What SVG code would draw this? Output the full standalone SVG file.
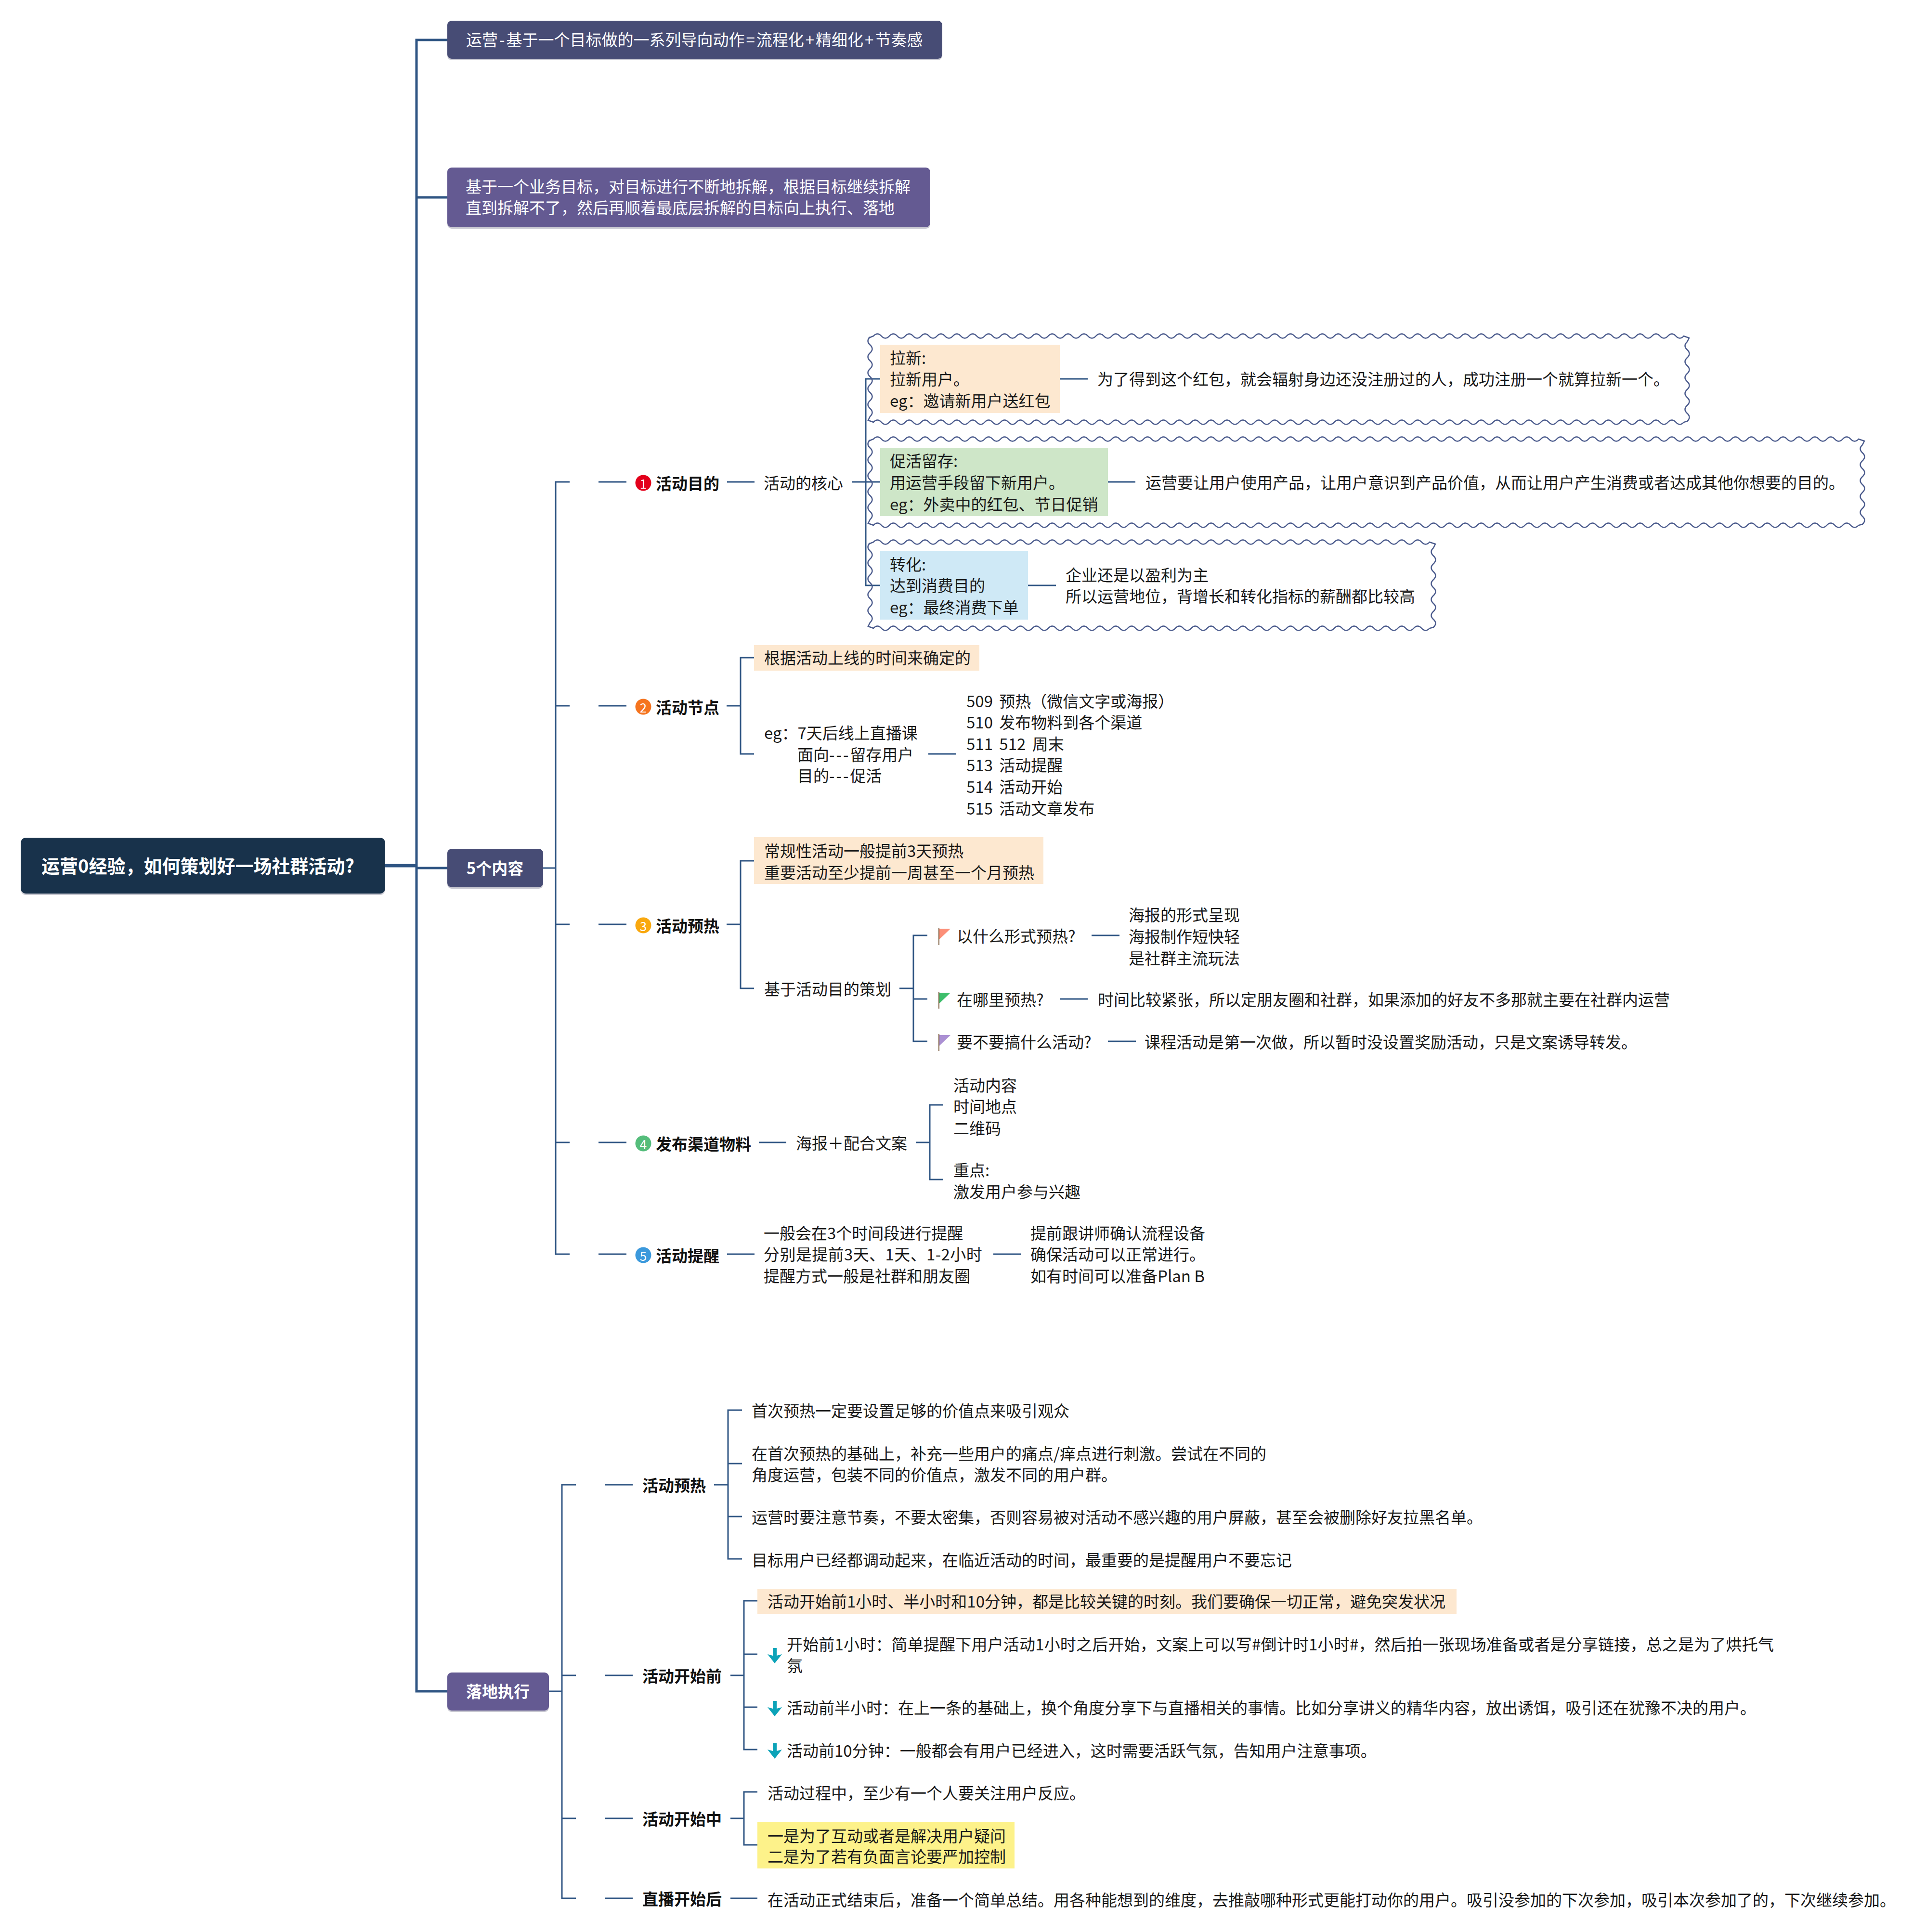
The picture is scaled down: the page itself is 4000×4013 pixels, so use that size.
<svg xmlns="http://www.w3.org/2000/svg" width="4000" height="4013" viewBox="0 0 4000 4013">
<style>
text{font-family:"Noto Sans CJK SC","Noto Sans",sans-serif;font-size:33px;fill:#1a1a1a;dominant-baseline:central;transform:translateY(-2px)}
.b{font-weight:700;fill:#111}
.w{fill:#fff}
.wb{fill:#fff;font-weight:700}
.c{text-anchor:middle}
.n{font-size:26px;fill:#fff;text-anchor:middle}
.sp{letter-spacing:3px}
.ws{word-spacing:6px}
.l{fill:none;stroke:#2f5583;stroke-width:3}
.t{fill:none;stroke:#2f5583;stroke-width:5}
.r{fill:none;stroke:#2f5583;stroke-width:7}
.wv{fill:none;stroke:#4a5a8c;stroke-width:2.5}
.sh{fill:#c9c9d2}
.pole{stroke:#7a5a3c;stroke-width:2;fill:none}
.ar{fill:#0ca3b8}
.org{fill:#fde8d0}
</style>
<defs>
<path id="arrow" d="M-4 0h8v16l11 -3 -15 19 -15 -19 11 3z"/>
</defs>
<rect width="4000" height="4013" fill="#fff"/>
<g id="connectors">
<path class="r" d="M800 1798H865"/>
<path class="t" d="M929 83H865V3513H929M865 410H929M865 1803H929"/>
<path class="l" d="M1128 1803H1154M1183 1001H1154V2605H1183M1154 1466H1183M1154 1920H1183M1154 2373H1183"/>
<path class="l" d="M1243 1001H1301M1510 1001H1567M1770 1001H1828M1828 787H1798V1216H1828"/>
<path class="l" d="M2201 787H2259M2301 1001H2358M2135 1216H2193"/>
<path class="l" d="M1243 1466H1301M1509 1466H1538M1566 1366H1538V1566H1566M1928 1566H1986"/>
<path class="l" d="M1243 1920H1301M1509 1920H1538M1566 1788H1538V2053H1566M1868 2053H1897M1926 1943H1897V2163H1926M1897 2075H1926"/>
<path class="l" d="M2267 1943H2325M2201 2075H2259M2301 2163H2359"/>
<path class="l" d="M1243 2373H1301M1576 2373H1633M1902 2373H1931M1959 2295H1931V2450H1959"/>
<path class="l" d="M1243 2605H1301M1510 2605H1567M2063 2605H2120"/>
<path class="l" d="M1140 3513H1167M1196 3084H1167V3943H1196M1167 3480H1196M1167 3777H1196"/>
<path class="l" d="M1257 3084H1314M1483 3084H1512M1541 2929H1512V3238H1541M1512 3040H1541M1512 3150H1541"/>
<path class="l" d="M1257 3480H1314M1517 3480H1545M1573 3325H1545V3634H1573M1545 3436H1573M1545 3546H1573"/>
<path class="l" d="M1257 3777H1314M1517 3777H1545M1573 3722H1545V3832H1573"/>
<path class="l" d="M1257 3943H1314M1517 3943H1573"/>
</g>
<g id="root">
<rect x="43" y="1743" width="757" height="116" rx="11" class="sh"/>
<rect x="43" y="1740" width="757" height="116" rx="11" fill="#18324b"/>
<text class="wb" x="86" y="1798" style="font-size:38px">运营0经验，如何策划好一场社群活动?</text>
</g>
<g id="n-def1">
<rect x="929" y="46" width="1028" height="79" rx="9" class="sh"/>
<rect x="929" y="43" width="1028" height="79" rx="9" fill="#474c75"/>
<text class="w" x="968" y="83">运营<tspan class="sp" dx="3">-</tspan>基于一个目标做的一系列导向动作<tspan class="sp" dx="3">=</tspan>流程化<tspan class="sp" dx="3">+</tspan>精细化<tspan class="sp" dx="3">+</tspan>节奏感</text>
</g>
<g id="n-def2">
<rect x="929" y="351" width="1003" height="124" rx="9" class="sh"/>
<rect x="929" y="348" width="1003" height="124" rx="9" fill="#645a92"/>
<text class="w" x="967" y="388">基于一个业务目标，对目标进行不断地拆解，根据目标继续拆解</text>
<text class="w" x="967" y="432">直到拆解不了，然后再顺着最底层拆解的目标向上执行、落地</text>
</g>
<g id="n-five">
<rect x="929" y="1766" width="199" height="80" rx="9" class="sh"/>
<rect x="929" y="1763" width="199" height="80" rx="9" fill="#474c75"/>
<text class="wb c" x="1028" y="1804">5个内容</text>
</g>
<g id="n-item1">
<circle cx="1336" cy="1003" r="16.5" fill="#e3001b"/>
<text class="n" x="1336" y="1005">1</text>
<text class="b" x="1362" y="1005">活动目的</text>
<text x="1586" y="1004">活动的核心</text>
</g>
<g id="n-laxin">
<path class="wv" d="M1804 702L1814 698q8.25 -9 16.5 0t
16.5 0 16.5 0 16.5 0 16.5 0 16.5 0 16.5 0 16.5 0 16.5 0 16.5 0 16.5 0
16.5 0 16.5 0 16.5 0 16.5 0 16.5 0 16.5 0 16.5 0 16.5 0 16.5 0 16.5 0
16.5 0 16.5 0 16.5 0 16.5 0 16.5 0 16.5 0 16.5 0 16.5 0 16.5 0 16.5 0
16.5 0 16.5 0 16.5 0 16.5 0 16.5 0 16.5 0 16.5 0 16.5 0 16.5 0 16.5 0
16.5 0 16.5 0 16.5 0 16.5 0 16.5 0 16.5 0 16.5 0 16.5 0 16.5 0 16.5 0
16.5 0 16.5 0 16.5 0 16.5 0 16.5 0 16.5 0 16.5 0 16.5 0 16.5 0 16.5 0
16.5 0 16.5 0 16.5 0 16.5 0 16.5 0 16.5 0 16.5 0 16.5 0 16.5 0 16.5 0
16.5 0 16.5 0 16.5 0 16.5 0 16.5 0 16.5 0 16.5 0 16.5 0 16.5 0 16.5 0
16.5 0 16.5 0 16.5 0 16.5 0 16.5 0 16.5 0 16.5 0 16.5 0 16.5 0 16.5 0
16.5 0 16.5 0 16.5 0 16.5 0 16.5 0 16.5 0 16.5 0 16.5 0 16.5 0 16.5 0
16.5 0
L3508 702L3504 710q-9 8.25 0 16.5t0 16.5 0 16.5 0 16.5 0 16.5 0 16.5 0 16.5 0 16.5 0 16.5 0 16.5L3497 877q-8.25 9 -16.5 0t
-16.5 0 -16.5 0 -16.5 0 -16.5 0 -16.5 0 -16.5 0 -16.5 0 -16.5 0 -16.5 0 -16.5 0
-16.5 0 -16.5 0 -16.5 0 -16.5 0 -16.5 0 -16.5 0 -16.5 0 -16.5 0 -16.5 0 -16.5 0
-16.5 0 -16.5 0 -16.5 0 -16.5 0 -16.5 0 -16.5 0 -16.5 0 -16.5 0 -16.5 0 -16.5 0
-16.5 0 -16.5 0 -16.5 0 -16.5 0 -16.5 0 -16.5 0 -16.5 0 -16.5 0 -16.5 0 -16.5 0
-16.5 0 -16.5 0 -16.5 0 -16.5 0 -16.5 0 -16.5 0 -16.5 0 -16.5 0 -16.5 0 -16.5 0
-16.5 0 -16.5 0 -16.5 0 -16.5 0 -16.5 0 -16.5 0 -16.5 0 -16.5 0 -16.5 0 -16.5 0
-16.5 0 -16.5 0 -16.5 0 -16.5 0 -16.5 0 -16.5 0 -16.5 0 -16.5 0 -16.5 0 -16.5 0
-16.5 0 -16.5 0 -16.5 0 -16.5 0 -16.5 0 -16.5 0 -16.5 0 -16.5 0 -16.5 0 -16.5 0
-16.5 0 -16.5 0 -16.5 0 -16.5 0 -16.5 0 -16.5 0 -16.5 0 -16.5 0 -16.5 0 -16.5 0
-16.5 0 -16.5 0 -16.5 0 -16.5 0 -16.5 0 -16.5 0 -16.5 0 -16.5 0 -16.5 0 -16.5 0
-16.5 0
L1803 873L1807 865q9 -8.25 0 -16.5t0 -16.5 0 -16.5 0 -16.5 0 -16.5 0 -16.5 0 -16.5 0 -16.5 0 -16.5 0 -16.5z"/>
<rect x="1828" y="716" width="373" height="142" class="org"/>
<text x="1848" y="744">拉新:</text>
<text x="1848" y="788">拉新用户。</text>
<text x="1848" y="833">eg：邀请新用户送红包</text>
<text x="2279" y="788">为了得到这个红包，就会辐射身边还没注册过的人，成功注册一个就算拉新一个。</text>
</g>
<g id="n-cuhuo">
<path class="wv" d="M1804 916L1814 912q8.25 -9 16.5 0t
16.5 0 16.5 0 16.5 0 16.5 0 16.5 0 16.5 0 16.5 0 16.5 0 16.5 0 16.5 0
16.5 0 16.5 0 16.5 0 16.5 0 16.5 0 16.5 0 16.5 0 16.5 0 16.5 0 16.5 0
16.5 0 16.5 0 16.5 0 16.5 0 16.5 0 16.5 0 16.5 0 16.5 0 16.5 0 16.5 0
16.5 0 16.5 0 16.5 0 16.5 0 16.5 0 16.5 0 16.5 0 16.5 0 16.5 0 16.5 0
16.5 0 16.5 0 16.5 0 16.5 0 16.5 0 16.5 0 16.5 0 16.5 0 16.5 0 16.5 0
16.5 0 16.5 0 16.5 0 16.5 0 16.5 0 16.5 0 16.5 0 16.5 0 16.5 0 16.5 0
16.5 0 16.5 0 16.5 0 16.5 0 16.5 0 16.5 0 16.5 0 16.5 0 16.5 0 16.5 0
16.5 0 16.5 0 16.5 0 16.5 0 16.5 0 16.5 0 16.5 0 16.5 0 16.5 0 16.5 0
16.5 0 16.5 0 16.5 0 16.5 0 16.5 0 16.5 0 16.5 0 16.5 0 16.5 0 16.5 0
16.5 0 16.5 0 16.5 0 16.5 0 16.5 0 16.5 0 16.5 0 16.5 0 16.5 0 16.5 0
16.5 0 16.5 0 16.5 0 16.5 0 16.5 0 16.5 0 16.5 0 16.5 0 16.5 0 16.5 0
16.5 0 16.5 0 16.5 0 16.5 0 16.5 0 16.5 0 16.5 0 16.5 0 16.5 0 16.5 0
16.5 0 16.5 0 16.5 0
L3872 916L3868 924q-9 8.25 0 16.5t0 16.5 0 16.5 0 16.5 0 16.5 0 16.5 0 16.5 0 16.5 0 16.5 0 16.5L3860 1091q-8.25 9 -16.5 0t
-16.5 0 -16.5 0 -16.5 0 -16.5 0 -16.5 0 -16.5 0 -16.5 0 -16.5 0 -16.5 0 -16.5 0
-16.5 0 -16.5 0 -16.5 0 -16.5 0 -16.5 0 -16.5 0 -16.5 0 -16.5 0 -16.5 0 -16.5 0
-16.5 0 -16.5 0 -16.5 0 -16.5 0 -16.5 0 -16.5 0 -16.5 0 -16.5 0 -16.5 0 -16.5 0
-16.5 0 -16.5 0 -16.5 0 -16.5 0 -16.5 0 -16.5 0 -16.5 0 -16.5 0 -16.5 0 -16.5 0
-16.5 0 -16.5 0 -16.5 0 -16.5 0 -16.5 0 -16.5 0 -16.5 0 -16.5 0 -16.5 0 -16.5 0
-16.5 0 -16.5 0 -16.5 0 -16.5 0 -16.5 0 -16.5 0 -16.5 0 -16.5 0 -16.5 0 -16.5 0
-16.5 0 -16.5 0 -16.5 0 -16.5 0 -16.5 0 -16.5 0 -16.5 0 -16.5 0 -16.5 0 -16.5 0
-16.5 0 -16.5 0 -16.5 0 -16.5 0 -16.5 0 -16.5 0 -16.5 0 -16.5 0 -16.5 0 -16.5 0
-16.5 0 -16.5 0 -16.5 0 -16.5 0 -16.5 0 -16.5 0 -16.5 0 -16.5 0 -16.5 0 -16.5 0
-16.5 0 -16.5 0 -16.5 0 -16.5 0 -16.5 0 -16.5 0 -16.5 0 -16.5 0 -16.5 0 -16.5 0
-16.5 0 -16.5 0 -16.5 0 -16.5 0 -16.5 0 -16.5 0 -16.5 0 -16.5 0 -16.5 0 -16.5 0
-16.5 0 -16.5 0 -16.5 0 -16.5 0 -16.5 0 -16.5 0 -16.5 0 -16.5 0 -16.5 0 -16.5 0
-16.5 0 -16.5 0 -16.5 0
L1803 1087L1807 1079q9 -8.25 0 -16.5t0 -16.5 0 -16.5 0 -16.5 0 -16.5 0 -16.5 0 -16.5 0 -16.5 0 -16.5 0 -16.5z"/>
<rect x="1828" y="930" width="473" height="142" fill="#cee6c8"/>
<text x="1848" y="958">促活留存:</text>
<text x="1848" y="1003">用运营手段留下新用户。</text>
<text x="1848" y="1048">eg：外卖中的红包、节日促销</text>
<text x="2379" y="1003">运营要让用户使用产品，让用户意识到产品价值，从而让用户产生消费或者达成其他你想要的目的。</text>
</g>
<g id="n-zhuanhua">
<path class="wv" d="M1804 1130L1814 1126q8.25 -9 16.5 0t
16.5 0 16.5 0 16.5 0 16.5 0 16.5 0 16.5 0 16.5 0 16.5 0 16.5 0 16.5 0
16.5 0 16.5 0 16.5 0 16.5 0 16.5 0 16.5 0 16.5 0 16.5 0 16.5 0 16.5 0
16.5 0 16.5 0 16.5 0 16.5 0 16.5 0 16.5 0 16.5 0 16.5 0 16.5 0 16.5 0
16.5 0 16.5 0 16.5 0 16.5 0 16.5 0 16.5 0 16.5 0 16.5 0 16.5 0 16.5 0
16.5 0 16.5 0 16.5 0 16.5 0 16.5 0 16.5 0 16.5 0 16.5 0 16.5 0 16.5 0
16.5 0 16.5 0 16.5 0 16.5 0 16.5 0 16.5 0 16.5 0 16.5 0 16.5 0 16.5 0
16.5 0 16.5 0 16.5 0 16.5 0 16.5 0 16.5 0 16.5 0 16.5 0 16.5 0
L2981 1130L2977 1138q-9 8.25 0 16.5t0 16.5 0 16.5 0 16.5 0 16.5 0 16.5 0 16.5 0 16.5 0 16.5 0 16.5L2969 1305q-8.25 9 -16.5 0t
-16.5 0 -16.5 0 -16.5 0 -16.5 0 -16.5 0 -16.5 0 -16.5 0 -16.5 0 -16.5 0 -16.5 0
-16.5 0 -16.5 0 -16.5 0 -16.5 0 -16.5 0 -16.5 0 -16.5 0 -16.5 0 -16.5 0 -16.5 0
-16.5 0 -16.5 0 -16.5 0 -16.5 0 -16.5 0 -16.5 0 -16.5 0 -16.5 0 -16.5 0 -16.5 0
-16.5 0 -16.5 0 -16.5 0 -16.5 0 -16.5 0 -16.5 0 -16.5 0 -16.5 0 -16.5 0 -16.5 0
-16.5 0 -16.5 0 -16.5 0 -16.5 0 -16.5 0 -16.5 0 -16.5 0 -16.5 0 -16.5 0 -16.5 0
-16.5 0 -16.5 0 -16.5 0 -16.5 0 -16.5 0 -16.5 0 -16.5 0 -16.5 0 -16.5 0 -16.5 0
-16.5 0 -16.5 0 -16.5 0 -16.5 0 -16.5 0 -16.5 0 -16.5 0 -16.5 0 -16.5 0
L1803 1301L1807 1293q9 -8.25 0 -16.5t0 -16.5 0 -16.5 0 -16.5 0 -16.5 0 -16.5 0 -16.5 0 -16.5 0 -16.5 0 -16.5z"/>
<rect x="1828" y="1145" width="307" height="142" fill="#cfe9f6"/>
<text x="1848" y="1173">转化:</text>
<text x="1848" y="1217">达到消费目的</text>
<text x="1848" y="1262">eg：最终消费下单</text>
<text x="2213" y="1195">企业还是以盈利为主</text>
<text x="2213" y="1239">所以运营地位，背增长和转化指标的薪酬都比较高</text>
</g>
<g id="n-item2">
<circle cx="1336" cy="1468" r="16.5" fill="#f5741f"/>
<text class="n" x="1336" y="1470">2</text>
<text class="b" x="1362" y="1470">活动节点</text>
</g>
<g id="n-item2a">
<rect x="1566" y="1340" width="468" height="53" class="org"/>
<text x="1587" y="1367">根据活动上线的时间来确定的</text>
</g>
<g id="n-item2b">
<text x="1587" y="1523">eg：7天后线上直播课</text>
<text x="1656" y="1568">面向<tspan class="sp">---</tspan>留存用户</text>
<text x="1656" y="1612">目的<tspan class="sp">---</tspan>促活</text>
</g>
<g id="n-item2c">
<text class="ws" x="2007" y="1457">509 预热（微信文字或海报）</text>
<text class="ws" x="2007" y="1501">510 发布物料到各个渠道</text>
<text class="ws" x="2007" y="1546">511 512 周末</text>
<text class="ws" x="2007" y="1590">513 活动提醒</text>
<text class="ws" x="2007" y="1635">514 活动开始</text>
<text class="ws" x="2007" y="1680">515 活动文章发布</text>
</g>
<g id="n-item3">
<circle cx="1336" cy="1922" r="16.5" fill="#f9a80e"/>
<text class="n" x="1336" y="1924">3</text>
<text class="b" x="1362" y="1924">活动预热</text>
</g>
<g id="n-item3a">
<rect x="1566" y="1739" width="601" height="97" class="org"/>
<text x="1587" y="1768">常规性活动一般提前3天预热</text>
<text x="1587" y="1813">重要活动至少提前一周甚至一个月预热</text>
</g>
<g id="n-item3b">
<text x="1587" y="2055">基于活动目的策划</text>
</g>
<g id="n-q1">
<path class="pole" d="M1950 1927V1963"/>
<path d="M1951 1929H1974L1951 1951z" fill="#fc8f78"/>
<text x="1987" y="1945">以什么形式预热?</text>
<text x="2344" y="1901">海报的形式呈现</text>
<text x="2344" y="1946">海报制作短快轻</text>
<text x="2344" y="1991">是社群主流玩法</text>
</g>
<g id="n-q2">
<path class="pole" d="M1950 2061V2095"/>
<path d="M1951 2062H1974L1951 2084z" fill="#3dbe6b"/>
<text x="1987" y="2077">在哪里预热?</text>
<text x="2280" y="2077">时间比较紧张，所以定朋友圈和社群，如果添加的好友不多那就主要在社群内运营</text>
</g>
<g id="n-q3">
<path class="pole" d="M1950 2148V2183"/>
<path d="M1951 2150H1974L1951 2172z" fill="#ab90d3"/>
<text x="1987" y="2165">要不要搞什么活动?</text>
<text x="2377" y="2165">课程活动是第一次做，所以暂时没设置奖励活动，只是文案诱导转发。</text>
</g>
<g id="n-item4">
<circle cx="1336" cy="2375" r="16.5" fill="#55bd7b"/>
<text class="n" x="1336" y="2377">4</text>
<text class="b" x="1362" y="2377">发布渠道物料</text>
<text x="1653" y="2375">海报＋配合文案</text>
</g>
<g id="n-item4a">
<text x="1980" y="2255">活动内容</text>
<text x="1980" y="2299">时间地点</text>
<text x="1980" y="2344">二维码</text>
</g>
<g id="n-item4b">
<text x="1980" y="2431">重点:</text>
<text x="1980" y="2476">激发用户参与兴趣</text>
</g>
<g id="n-item5">
<circle cx="1336" cy="2607" r="16.5" fill="#3b99dc"/>
<text class="n" x="1336" y="2609">5</text>
<text class="b" x="1362" y="2609">活动提醒</text>
</g>
<g id="n-item5a">
<text x="1586" y="2562">一般会在3个时间段进行提醒</text>
<text x="1586" y="2606" style="letter-spacing:.4px">分别是提前3天、1天、1-2小时</text>
<text x="1586" y="2651">提醒方式一般是社群和朋友圈</text>
</g>
<g id="n-item5b">
<text x="2140" y="2562">提前跟讲师确认流程设备</text>
<text x="2140" y="2606">确保活动可以正常进行。</text>
<text x="2140" y="2651">如有时间可以准备Plan B</text>
</g>
<g id="n-land">
<rect x="929" y="3477" width="211" height="79" rx="9" class="sh"/>
<rect x="929" y="3474" width="211" height="79" rx="9" fill="#645a92"/>
<text class="wb c" x="1034" y="3514">落地执行</text>
</g>
<g id="n-pre">
<text class="b" x="1334" y="3086">活动预热</text>
<text x="1561" y="2931">首次预热一定要设置足够的价值点来吸引观众</text>
<text x="1561" y="3020">在首次预热的基础上，补充一些用户的痛点/痒点进行刺激。尝试在不同的</text>
<text x="1561" y="3064">角度运营，包装不同的价值点，激发不同的用户群。</text>
<text x="1561" y="3152">运营时要注意节奏，不要太密集，否则容易被对活动不感兴趣的用户屏蔽，甚至会被删除好友拉黑名单。</text>
<text x="1561" y="3241">目标用户已经都调动起来，在临近活动的时间，最重要的是提醒用户不要忘记</text>
</g>
<g id="n-before">
<text class="b" x="1334" y="3482">活动开始前</text>
<rect x="1573" y="3300" width="1452" height="52" class="org"/>
<text x="1594" y="3327">活动开始前1小时、半小时和10分钟，都是比较关键的时刻。我们要确保一切正常，避免突发状况</text>
<use href="#arrow" class="ar" x="1609" y="3423"/>
<text x="1634" y="3416" style="letter-spacing:.18px">开始前1小时：简单提醒下用户活动1小时之后开始，文案上可以写#倒计时1小时#，然后拍一张现场准备或者是分享链接，总之是为了烘托气</text>
<text x="1634" y="3460">氛</text>
<use href="#arrow" class="ar" x="1609" y="3533"/>
<text x="1634" y="3548">活动前半小时：在上一条的基础上，换个角度分享下与直播相关的事情。比如分享讲义的精华内容，放出诱饵，吸引还在犹豫不决的用户。</text>
<use href="#arrow" class="ar" x="1609" y="3621"/>
<text x="1634" y="3637">活动前10分钟：一般都会有用户已经进入，这时需要活跃气氛，告知用户注意事项。</text>
</g>
<g id="n-during">
<text class="b" x="1334" y="3779">活动开始中</text>
<text x="1594" y="3725">活动过程中，至少有一个人要关注用户反应。</text>
<rect x="1573" y="3784" width="534" height="97" fill="#fdf28a"/>
<text x="1594" y="3814">一是为了互动或者是解决用户疑问</text>
<text x="1594" y="3857">二是为了若有负面言论要严加控制</text>
</g>
<g id="n-after">
<text class="b" x="1334" y="3945">直播开始后</text>
<text x="1594" y="3947">在活动正式结束后，准备一个简单总结。用各种能想到的维度，去推敲哪种形式更能打动你的用户。吸引没参加的下次参加，吸引本次参加了的，下次继续参加。</text>
</g>
</svg>
